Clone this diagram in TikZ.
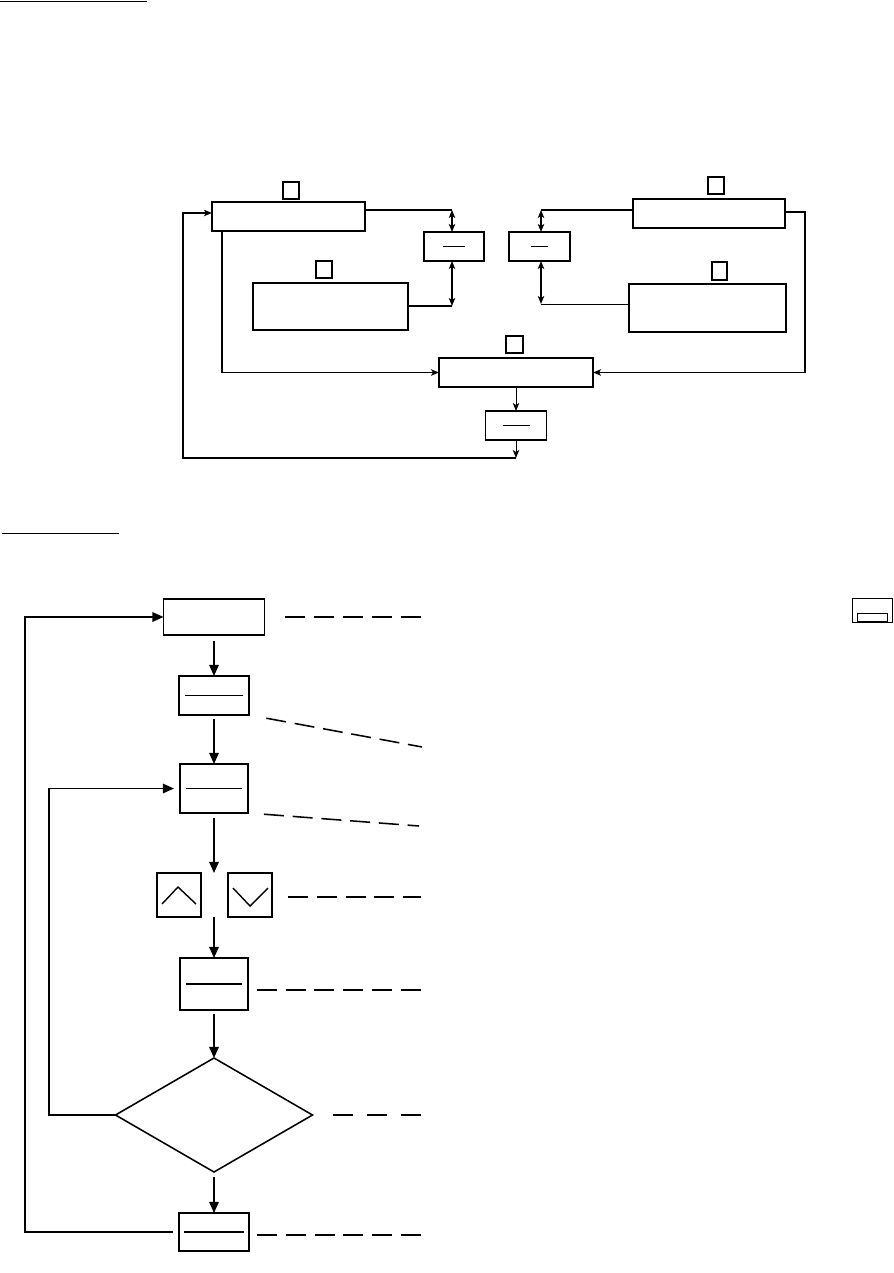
\documentclass[tikz,border=0pt]{standalone}
\usetikzlibrary{shapes.geometric,arrows.meta}

\begin{document}
\begin{tikzpicture}[x=0.025cm,y=-0.025cm,
    box/.style={draw,line width=1.2pt,inner sep=0pt,outer sep=0pt},
    sz/.style 2 args={minimum width=#1*0.025cm,minimum height=#2*0.025cm},
    bar/.style={path picture={\draw[line width=1pt]
        ([xshift=#1*0.025cm]path picture bounding box.west) --
        ([xshift=-#1*0.025cm]path picture bounding box.east);}},
    ln/.style={line width=1.2pt},
    thin ln/.style={line width=0.7pt},
    sarr/.style={-{Stealth[length=2mm,width=1.6mm,inset=0.5mm]}},
    dblarr/.style={{Stealth[length=2mm,width=1.6mm,inset=0.5mm]}-{Stealth[length=2mm,width=1.6mm,inset=0.5mm]}},
    arr/.style={line width=1.2pt,-{Triangle[length=2.8mm,width=2.4mm]}},
    lead/.style={line width=1.1pt,dash pattern=on 5mm off 2.2mm},
    uline/.style={line width=0.7pt}]
  \useasboundingbox (0,0) rectangle (893,1273);
  % upper scheme
  \draw[uline] (0,1.5) -- (147,1.5);
  \node[box,line width=1.4pt,sz={153}{29}] (boxA) at (288.5,216.5) {};
  \node[box,line width=1.4pt,sz={16}{17}] (sqA) at (291,190.5) {};
  \node[box,line width=1.4pt,sz={60}{29},bar=19] (boxB) at (454,246.5) {};
  \node[box,line width=1.4pt,sz={155}{47}] (boxC) at (330.5,306.5) {};
  \node[box,line width=1.4pt,sz={16}{17}] (sqC) at (324,269.5) {};
  \node[box,line width=1.4pt,sz={152}{29}] (boxD) at (709,213.5) {};
  \node[box,line width=1.4pt,sz={16}{17}] (sqD) at (716,185.5) {};
  \node[box,line width=1.4pt,sz={61}{29},bar=22] (boxF) at (539.5,246.5) {};
  \node[box,line width=1.4pt,sz={157}{48}] (boxG) at (707.5,308) {};
  \node[box,line width=1.4pt,sz={15}{18}] (sqG) at (719.5,271) {};
  \node[box,line width=1.4pt,sz={154}{29}] (boxE) at (516,372.5) {};
  \node[box,line width=1.4pt,sz={17}{17}] (sqE) at (514.5,344.5) {};
  \node[box,line width=1.4pt,sz={61}{29},bar=17] (boxH) at (516,425.5) {};
  \coordinate (kAB) at (452,210);
  \coordinate (kCB) at (452,306);
  \coordinate (kDF) at (541,210);
  \coordinate (kGF) at (541,304);
  \coordinate (kD) at (805,212);
  \coordinate (kA) at (222,372);
  \coordinate (kH) at (516,458);
  \coordinate (kL) at (183,213);
  \draw[ln] (boxA.east |- kAB) -- (kAB);
  \draw[ln,dblarr] (kAB) -- (kAB |- boxB.north);
  \draw[ln] (boxC.east |- kCB) -- (kCB);
  \draw[ln,dblarr] (kCB) -- (kCB |- boxB.south);
  \draw[ln] (boxD.west |- kDF) -- (kDF);
  \draw[ln,dblarr] (kDF) -- (kDF |- boxF.north);
  \draw[thin ln] (boxG.west |- kGF) -- (kGF);
  \draw[ln,dblarr] (kGF) -- (kGF |- boxF.south);
  \draw[ln,sarr] (boxD.east |- kD) -- (kD) |- (boxE.east);
  \draw[ln,sarr] (boxA.south -| kA) |- (boxE.west);
  \draw[thin ln,sarr] (boxE.south) -- (boxH.north);
  \draw[thin ln,sarr] (boxH.south) -- (kH);
  \draw[ln,sarr] (kH) -| (kL) -- (boxA.west |- kL);
  % lower flow chart
  \draw[uline] (2,533) -- (119,533);
  \node[box,sz={101}{36}] (start) at (214,617) {};
  \node[box,sz={70}{39},bar=6] (s2) at (214,695.5) {};
  \node[box,sz={68}{49},bar=6] (s3) at (214,788.5) {};
  \node[box,sz={44}{44}] (up) at (179,895) {};
  \node[box,sz={44}{44}] (dn) at (250,895) {};
  \node[box,sz={68}{52},bar=6] (s5) at (214,984) {};
  \node[box,shape=diamond,line width=1.1pt,sz={197}{114}] (test) at (214,1115) {};
  \node[box,sz={70}{38},bar=5] (s7) at (214,1232) {};
  \node[box,line width=0.7pt,sz={40}{24}] (icon) at (872,610) {};
  \node[box,line width=0.7pt,sz={30}{8}] (iconbar) at (872,617) {};
  \draw[line width=1pt] ([shift={(-17,9)}]up.center) -- ([shift={(-1,-8)}]up.center)
    -- ([shift={(17,9)}]up.center);
  \draw[line width=1pt] ([shift={(-17,-7)}]dn.center) -- ([shift={(0,11)}]dn.center)
    -- ([shift={(18,-7)}]dn.center);
  \draw[arr,shorten <=1.5mm] (start) -- (s2);
  \draw[arr,shorten <=1mm] (s2) -- (s3);
  \draw[arr,shorten <=1.2mm] (s3.south) -- (s3.south |- up.north);
  \draw[arr] (s3.south |- up.south) -- (s5.north);
  \draw[arr,shorten <=1mm] (s5) -- (test);
  \draw[arr,shorten <=1.2mm] (test) -- (s7);
  % loops back
  \coordinate (kIn) at (49,788.5);
  \coordinate (kOut) at (25,617);
  \draw[arr,line width=0.9pt,shorten >=1.5mm] (test.west) -| (kIn) -- (s3.west);
  \draw[arr,shorten <=1.5mm] (s7.west) -| (kOut) -- (start.west);
  % leader lines
  \coordinate (n1) at (421,617);
  \coordinate (n2) at (422,747);
  \coordinate (n3) at (419,826);
  \coordinate (n4) at (421,897);
  \coordinate (n5) at (421,990);
  \coordinate (n6) at (423,1115);
  \coordinate (n7) at (421,1235);
  \draw[lead,shorten <=5.2mm] (start.east) -- (n1);
  \draw[lead,shorten <=4.4mm] (s2.south east) -- (n2);
  \draw[lead,shorten <=4mm] (s3.south east) -- (n3);
  \draw[lead,shorten <=4mm] (dn.east |- n4) -- (n4);
  \draw[lead,shorten <=2.2mm] (s5.east |- n5) -- (n5);
  \draw[lead,dash pattern=on 5mm off 3.5mm,shorten <=5.2mm] (test.east) -- (n6);
  \draw[lead,shorten <=2mm] (s7.east |- n7) -- (n7);
\end{tikzpicture}
\end{document}
